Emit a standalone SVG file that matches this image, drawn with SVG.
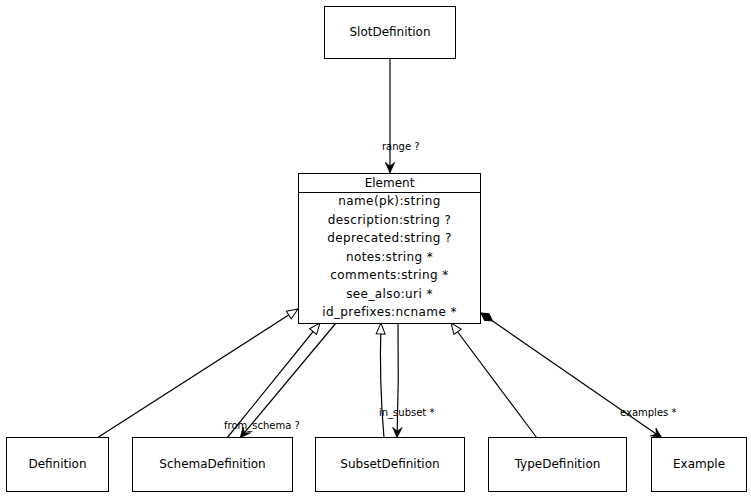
<svg xmlns="http://www.w3.org/2000/svg" width="751" height="498" viewBox="0 0 751 498">
<style>
.box{fill:#fff;stroke:#000;stroke-width:1}
.t{font-family:"DejaVu Sans",sans-serif;font-size:12px;fill:#000;text-anchor:middle}
.a{letter-spacing:0.4px}
.lbl{font-family:"DejaVu Sans",sans-serif;font-size:10px;fill:#000}
.e{fill:none;stroke:#000;stroke-width:1.2}
</style>
<defs>
<marker id="tri" markerUnits="userSpaceOnUse" markerWidth="13" markerHeight="11" viewBox="0 0 13 11" refX="12" refY="5.5" orient="auto">
<path d="M1,1 L12,5.5 L1,10 z" fill="#fff" stroke="#000" stroke-width="1"/>
</marker>
<marker id="vee" markerUnits="userSpaceOnUse" markerWidth="12" markerHeight="11" viewBox="0 0 12 11" refX="11" refY="5.5" orient="auto">
<path d="M0,0.5 L11,5.5 L0,10.5 L4,5.5 z" fill="#000" stroke="#000" stroke-width="0.5"/>
</marker>
<marker id="dia" markerUnits="userSpaceOnUse" markerWidth="16" markerHeight="12" viewBox="0 0 16 12" refX="1" refY="6" orient="auto">
<path d="M1,6 L8,2 L15,6 L8,10 z" fill="#000" stroke="#000" stroke-width="1"/>
</marker>
</defs>
<g id="connectors">
<path class="e" d="M390,58 L390,173" marker-end="url(#vee)"/>
<text class="lbl" x="382" y="150">range ?</text>
<path class="e" d="M97,438 L298,309" marker-end="url(#tri)"/>
<path class="e" d="M227,438 L320,323" marker-end="url(#tri)"/>
<path class="e" d="M336,323 L240,438" marker-end="url(#vee)"/>
<text class="lbl" x="224" y="429">from_schema ?</text>
<path class="e" d="M384,438 Q379,380 381,323" marker-end="url(#tri)"/>
<path class="e" d="M398,323 Q399,380 397,438" marker-end="url(#vee)"/>
<text class="lbl" x="379" y="416">in_subset *</text>
<path class="e" d="M537,438 L451,323" marker-end="url(#tri)"/>
<path class="e" d="M481,313 L662,438" marker-start="url(#dia)" marker-end="url(#vee)"/>
<text class="lbl" x="620" y="416">examples *</text>
</g>
<g id="SlotDefinition">
<rect class="box" x="324.5" y="6.5" width="131" height="52"/>
<text class="t" x="390" y="36">SlotDefinition</text>
</g>
<g id="Element">
<rect class="box" x="298.5" y="173.5" width="182" height="150"/>
<line x1="298.5" y1="192.5" x2="480.5" y2="192.5" stroke="#000"/>
<text class="t" x="389.5" y="187">Element</text>
<text class="t a" x="389.5" y="205">name(pk):string</text>
<text class="t a" x="389.5" y="224">description:string ?</text>
<text class="t a" x="389.5" y="242">deprecated:string ?</text>
<text class="t a" x="389.5" y="261">notes:string *</text>
<text class="t a" x="389.5" y="279">comments:string *</text>
<text class="t a" x="389.5" y="298">see_also:uri *</text>
<text class="t a" x="389.5" y="316">id_prefixes:ncname *</text>
</g>
<g id="Definition">
<rect class="box" x="6.5" y="437.5" width="102" height="54"/>
<text class="t" x="57.5" y="468">Definition</text>
</g>
<g id="SchemaDefinition">
<rect class="box" x="132.5" y="437.5" width="160" height="54"/>
<text class="t" x="212.5" y="468">SchemaDefinition</text>
</g>
<g id="SubsetDefinition">
<rect class="box" x="315.5" y="437.5" width="149" height="54"/>
<text class="t" x="390" y="468">SubsetDefinition</text>
</g>
<g id="TypeDefinition">
<rect class="box" x="488.5" y="437.5" width="138" height="54"/>
<text class="t" x="557.5" y="468">TypeDefinition</text>
</g>
<g id="Example">
<rect class="box" x="651.5" y="437.5" width="95" height="54"/>
<text class="t" x="699" y="468">Example</text>
</g>
</svg>
